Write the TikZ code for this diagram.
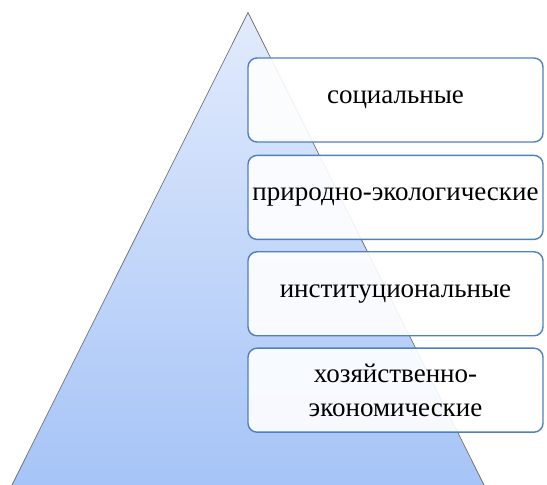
\documentclass[tikz,border=0pt]{standalone}
\usepackage{fontspec}
\setmainfont{Liberation Serif}
\newfontfamily\lvlfont{Liberation Serif}
\usepackage{tikz}
\usetikzlibrary{positioning}

\definecolor{pyrtop}{HTML}{E2EBFC}
\definecolor{pyrbottom}{HTML}{A6C4F7}
\definecolor{pyredge}{HTML}{707070}
\definecolor{boxedge}{HTML}{4F81BD}

\begin{document}
\begin{tikzpicture}[x=1pt,y=1pt,
        level/.style={draw=boxedge,line width=1.4pt,rounded corners=9pt,
            fill=white,fill opacity=0.9,text opacity=1,
            minimum width=295pt,minimum height=84pt,inner xsep=0pt,
            align=center,font=\lvlfont\fontsize{27}{34}\selectfont}
    ]
        \useasboundingbox (0,0) rectangle (547,485);

        % Pyramid
        \coordinate (apex) at (248,472.5);
        \coordinate (bl) at (12,0);
        \coordinate (br) at (484,0);
        \shade[top color=pyrtop,bottom color=pyrbottom] (apex) -- (br) -- (bl) -- cycle;
        \draw[pyredge,line width=0.7pt] (bl) -- (apex) -- (br);

        % Levels
        \node[level] (soc) at (395.5,385) {социальные};
        \node[level,below=12pt of soc] (eco) {природно-экологические};
        \node[level,below=11pt of eco] (inst) {институциональные};
        \node[level,below=11pt of inst] (econ) {хозяйственно-\\экономические};
    \end{tikzpicture}
\end{document}
